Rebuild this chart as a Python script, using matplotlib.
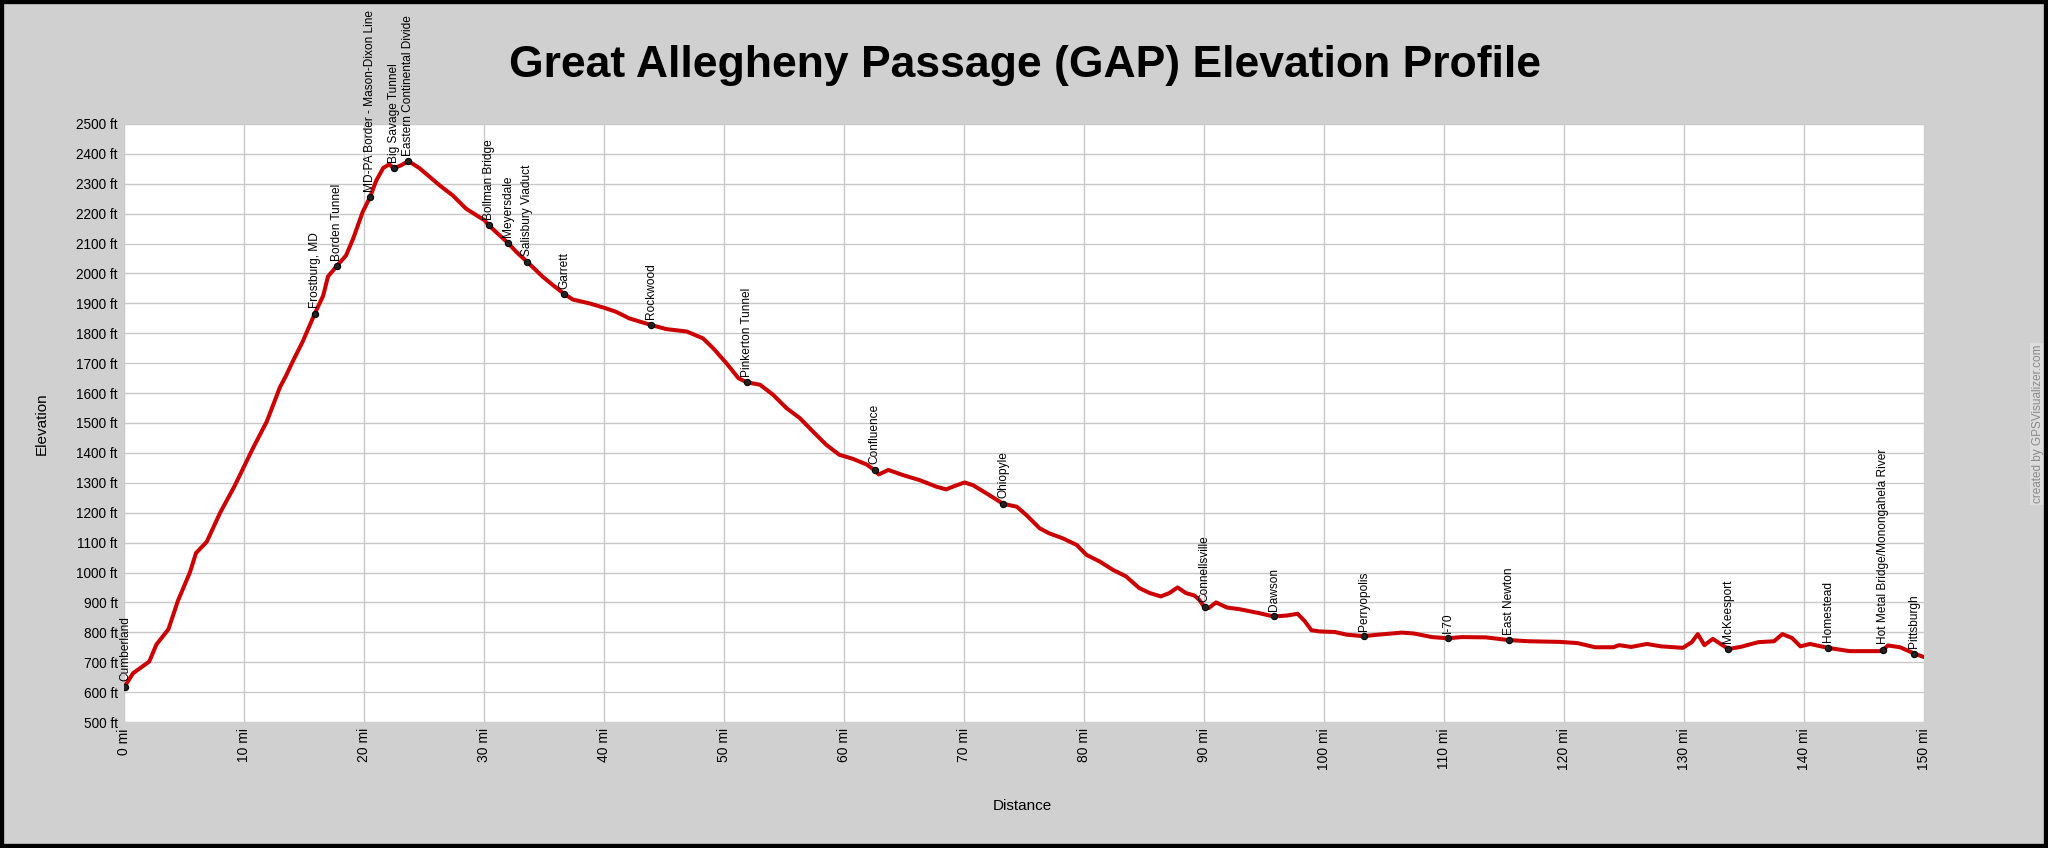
import matplotlib
matplotlib.use("Agg")
import matplotlib.pyplot as plt
from matplotlib.patches import Rectangle
from matplotlib.ticker import FuncFormatter, MultipleLocator

plt.rcParams["font.family"] = ["Liberation Sans", "DejaVu Sans"]

# Profile (miles from Cumberland, elevation in ft).
miles = [0.0, 0.75, 2.1, 2.7, 3.7, 4.5, 5.5, 6.0, 6.9, 8.0, 9.2, 10.05, 10.75,
         11.9, 13.0, 13.5, 14.1, 14.9, 15.9, 16.6, 17.0, 17.75, 18.5, 19.1,
         19.9, 20.5, 21.0, 21.6, 22.1, 22.5, 23.1, 23.7, 24.6, 26.3, 27.4,
         28.5, 29.4, 30.05, 30.4, 31.3, 32.0, 32.7, 33.6, 34.9, 35.75, 36.7,
         37.4, 38.8, 40.2, 41.0, 42.1, 43.0, 43.9, 45.2, 46.9, 48.25, 49.1,
         50.2, 51.2, 51.9, 53.0, 54.1, 55.2, 56.3, 57.4, 58.5, 59.6, 60.75,
         61.9, 62.55, 62.9, 63.7, 64.9, 66.3, 67.7, 68.5, 69.4, 70.05, 70.75,
         71.9, 73.25, 74.4, 75.2, 76.3, 77.1, 78.25, 79.4, 80.2, 81.3, 82.4,
         83.5, 84.6, 85.5, 86.4, 87.1, 87.8, 88.5, 89.2, 89.6, 90.05, 90.4,
         91.0, 91.9, 93.0, 94.6, 95.8, 96.9, 97.8, 98.4, 98.95, 99.6, 100.9,
         101.9, 103.3, 104.5, 106.5, 107.5, 109.0, 110.3, 111.5, 113.5, 115.4,
         117.1, 119.6, 121.1, 122.6, 124.1, 124.6, 125.6, 126.9, 128.1, 129.9,
         130.65, 131.15, 131.7, 132.4, 133.7, 134.7, 136.2, 137.5, 138.2,
         139.0, 139.7, 140.5, 142.0, 143.8, 146.3, 146.6, 147.0, 148.0, 149.2,
         150.0]
elev = [615, 663, 702, 759, 810, 906, 1001, 1065, 1103, 1199, 1288, 1358, 1416,
        1505, 1620, 1658, 1709, 1773, 1866, 1926, 1990, 2026, 2060, 2117,
        2207, 2255, 2309, 2353, 2365, 2352, 2362, 2376, 2353, 2295, 2261,
        2217, 2194, 2178, 2161, 2128, 2102, 2072, 2039, 1989, 1961, 1931,
        1913, 1900, 1883, 1872, 1850, 1839, 1828, 1814, 1806, 1783, 1750,
        1700, 1650, 1636, 1628, 1594, 1550, 1517, 1472, 1428, 1394, 1380,
        1361, 1342, 1328, 1343, 1326, 1309, 1287, 1278, 1292, 1301, 1292,
        1264, 1230, 1220, 1192, 1148, 1131, 1114, 1092, 1059, 1037, 1009,
        987, 948, 931, 920, 931, 950, 931, 923, 909, 883, 881,
        900, 883, 877, 864, 853, 856, 862, 837, 807, 803, 801,
        792, 787, 792, 799, 796, 784, 780, 784, 783, 774,
        770, 768, 764, 750, 750, 757, 751, 761, 753, 748,
        767, 794, 757, 778, 744, 751, 767, 770, 794,
        781, 753, 761, 748, 737, 737, 742, 756, 750, 729,
        717]

# Waypoints
wpt_names = ["Cumberland", "Frostburg, MD", "Borden Tunnel",
             "MD-PA Border - Mason-Dixon Line", "Big Savage Tunnel",
             "Eastern Continental Divide", "Bollman Bridge", "Meyersdale",
             "Salisbury Viaduct", "Garrett", "Rockwood", "Pinkerton Tunnel",
             "Confluence", "Ohiopyle", "Connellsville", "Dawson", "Perryopolis",
             "I-70", "East Newton", "McKeesport", "Homestead",
             "Hot Metal Bridge/Monongahela River", "Pittsburgh"]
wpt_miles = [0.1, 15.9, 17.75, 20.5, 22.5, 23.7, 30.4, 32.0, 33.6, 36.7, 43.9,
             51.9, 62.55, 73.25, 90.05, 95.8, 103.3, 110.3, 115.4, 133.7, 142.0,
             146.6, 149.2]
wpt_elev = [617, 1866, 2024, 2255, 2352, 2376, 2161, 2102, 2039, 1931, 1828,
            1636, 1344, 1230, 883, 853, 787, 780, 774, 744, 748, 742, 729]

bg = "#d0d0d0"
W, H = 2048, 848

fig = plt.figure(figsize=(W / 100, H / 100), dpi=100, facecolor=bg)
ax = fig.add_axes([124 / W, 1 - 722 / H, 1800 / W, 598 / H])
ax.set_facecolor("white")

ax.plot(miles, elev, color="#cc0000", linewidth=2.9, solid_joinstyle="round",
        zorder=3)
ax.plot(wpt_miles, wpt_elev, "o", color="#222222", markersize=4.5,
        markeredgewidth=0.8, markeredgecolor="black", zorder=4)

for name, m, e in zip(wpt_names, wpt_miles, wpt_elev):
    ax.annotate(name, (m, e), xytext=(0, 4), textcoords="offset points",
                rotation=90, ha="center", va="bottom", fontsize=8.6,
                annotation_clip=False, zorder=5)

ax.set_xlim(0, 150)
ax.set_ylim(500, 2500)
ax.xaxis.set_major_locator(MultipleLocator(10))
ax.yaxis.set_major_locator(MultipleLocator(100))
ax.xaxis.set_major_formatter(FuncFormatter(lambda v, p: f"{v:.0f} mi"))
ax.yaxis.set_major_formatter(FuncFormatter(lambda v, p: f"{v:.0f} ft"))
ax.tick_params(axis="both", length=0, labelsize=9.8, pad=4.5)
ax.tick_params(axis="x", labelrotation=90, labelsize=10)
ax.grid(True, color="#c8c8c8", linewidth=1.0)
ax.set_axisbelow(True)
for s in ax.spines.values():
    s.set_visible(False)

fig.text(1025 / W, 1 - 66 / H, "Great Allegheny Passage (GAP) Elevation Profile",
         ha="center", va="center", fontsize=32, fontweight="bold")
fig.text(1022 / W, 1 - 806 / H, "Distance", ha="center", va="center",
         fontsize=11)
fig.text(42 / W, 1 - 424 / H, "Elevation", ha="center", va="center",
         fontsize=11, rotation=90)
fig.text(2038 / W, 1 - 424 / H, "created by GPSVisualizer.com", ha="center",
         va="center", fontsize=8.5, rotation=90, color="#8a8a8a",
         bbox=dict(boxstyle="square,pad=0.15", facecolor="#dcdcdc",
                   edgecolor="none"))

# black frame round the whole picture
fig.add_artist(Rectangle((0, 0), 1, 1, transform=fig.transFigure, fill=False,
                         edgecolor="black", linewidth=6, zorder=10))

fig.savefig("out.png", dpi=100, facecolor=bg)
